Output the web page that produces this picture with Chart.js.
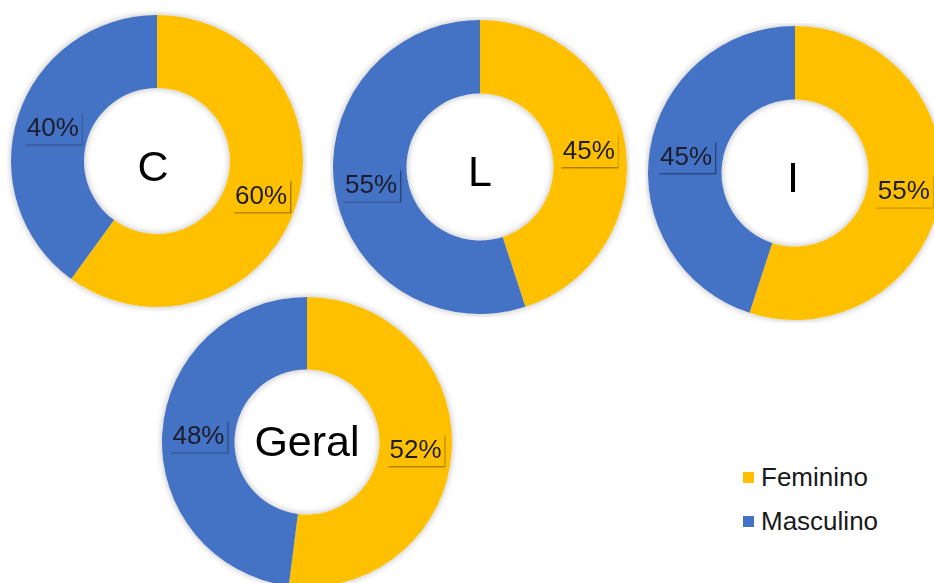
<!DOCTYPE html>
<html lang="pt">
<head>
<meta charset="utf-8">
<script src="https://cdn.jsdelivr.net/npm/chart.js@4/dist/chart.umd.min.js"></script>
<style>
  html, body { margin: 0; padding: 0; background: #fff; }
  body { width: 934px; height: 583px; position: relative; overflow: hidden; font-family: "Liberation Sans", Arial, sans-serif; }
  .donut { position: absolute; width: 300px; height: 300px; }
  #chartC { left: 7px; top: 11px; }
  #chartL { left: 330px; top: 17px; }
  #chartI { left: 645px; top: 23px; }
  #chartGeral { left: 157px; top: 292px; }
  #legenda { position: absolute; left: 743px; top: 455px; font-size: 26px; color: #1a1a1a; }
  #legenda div { display: flex; align-items: center; height: 44px; }
  #legenda span.box { width: 11px; height: 11px; margin-right: 7px; display: inline-block; }
</style>
</head>
<body>
<canvas id="chartC" class="donut" width="300" height="300"></canvas>
<canvas id="chartL" class="donut" width="300" height="300"></canvas>
<canvas id="chartI" class="donut" width="300" height="300"></canvas>
<canvas id="chartGeral" class="donut" width="300" height="300"></canvas>
<div id="legenda"></div>

<script>
// dados
const categorias = ['Feminino', 'Masculino'];
const grupos = ['C', 'L', 'I', 'Geral'];
const feminino = [60, 45, 55, 52];
const masculino = [40, 55, 45, 48];
const cores = ['#FFC000', '#4472C4'];

// sombra suave por baixo do anel
const sombraAnel = {
    id: 'sombraAnel',
    beforeDatasetsDraw(chart) {
        const arc = chart.getDatasetMeta(0).data[0];
        if (!arc) return;
        const { x, y, outerRadius, innerRadius } = arc.getProps(['x', 'y', 'outerRadius', 'innerRadius'], true);
        const ctx = chart.ctx;
        ctx.save();
        ctx.shadowColor = 'rgba(0,0,0,0.28)';
        ctx.shadowBlur = 7;
        ctx.fillStyle = '#fff';
        ctx.beginPath();
        ctx.arc(x, y, outerRadius, 0, Math.PI * 2);
        ctx.arc(x, y, innerRadius, 0, Math.PI * 2, true);
        ctx.fill('evenodd');
        ctx.restore();
    }
};

// rótulos de percentagem e título no centro
const rotulos = {
    id: 'rotulos',
    afterDatasetsDraw(chart, args, opts) {
        const ctx = chart.ctx;
        const ds = chart.data.datasets[0];
        const meta = chart.getDatasetMeta(0);
        ctx.save();
        ctx.font = '26px "Liberation Sans", Arial, sans-serif';
        ctx.textAlign = 'center';
        ctx.textBaseline = 'middle';
        meta.data.forEach((arc, i) => {
            const p = arc.tooltipPosition();
            const txt = ds.data[i] + '%';
            const w = ctx.measureText(txt).width + 6;
            const h = 33;
            ctx.save();
            ctx.shadowColor = 'rgba(0,0,0,0.45)';
            ctx.shadowOffsetX = 1.5;
            ctx.shadowOffsetY = 1.5;
            ctx.shadowBlur = 1.5;
            ctx.fillStyle = ds.backgroundColor[i];
            ctx.fillRect(p.x - w / 2, p.y - h / 2 + 1, w, h);
            ctx.restore();
            ctx.fillStyle = '#1c1c2a';
            ctx.fillText(txt, p.x, p.y + 2);
        });
        const c = meta.data[0];
        ctx.font = '43px "Liberation Sans", Arial, sans-serif';
        ctx.fillStyle = '#000';
        ctx.fillText(opts.texto, c.x + opts.dx, c.y + opts.dy);
        ctx.restore();
    }
};

function criarDonut(id, grupo, fem, masc, raio, desloc) {
    new Chart(document.getElementById(id), {
        type: 'doughnut',
        data: {
            labels: categorias,
            datasets: [{
                data: [fem, masc],
                backgroundColor: cores,
                borderWidth: 0
            }]
        },
        options: {
            responsive: false,
            animation: false,
            cutout: '50%',
            layout: { padding: 150 - raio },
            plugins: {
                legend: { display: false },
                tooltip: { enabled: false },
                rotulos: { texto: grupo, dx: desloc[0], dy: desloc[1] }
            }
        },
        plugins: [sombraAnel, rotulos]
    });
}

criarDonut('chartC', grupos[0], feminino[0], masculino[0], 146, [-4, 8]);
criarDonut('chartL', grupos[1], feminino[1], masculino[1], 147, [0, 7]);
criarDonut('chartI', grupos[2], feminino[2], masculino[2], 147, [-2, 7]);
criarDonut('chartGeral', grupos[3], feminino[3], masculino[3], 145, [0, 2]);

// legenda
document.getElementById('legenda').innerHTML = categorias
    .map((c, i) => `<div><span class="box" style="background:${cores[i]}"></span>${c}</div>`)
    .join('');
</script>
</body>
</html>
